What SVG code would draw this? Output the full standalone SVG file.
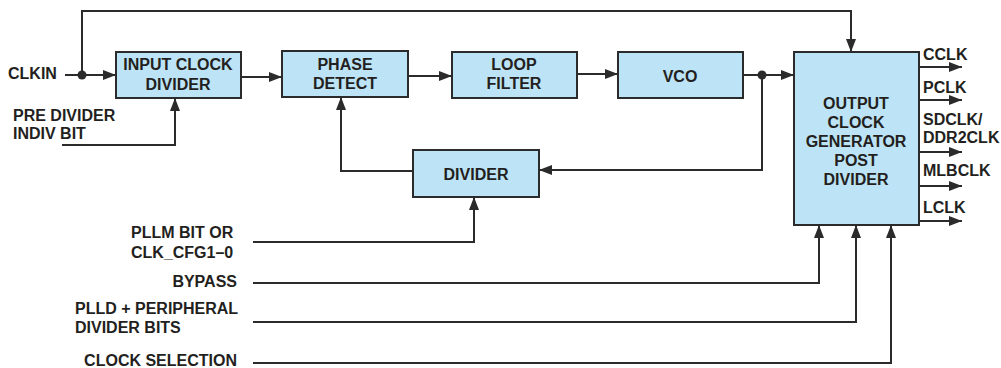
<svg xmlns="http://www.w3.org/2000/svg" width="1001" height="368" viewBox="0 0 1001 368">
<style>
.box{fill:#bde4f6;stroke:#2b2b2b;stroke-width:2}
.t{font-family:"Liberation Sans",Arial,sans-serif;font-weight:bold;font-size:16px;fill:#231f20}
.c{text-anchor:middle}
.e{text-anchor:end}
.w{fill:none;stroke:#2b2b2b;stroke-width:2}
.a{marker-end:url(#ah)}
</style>
<defs>
<marker id="ah" markerUnits="userSpaceOnUse" markerWidth="13" markerHeight="10" refX="13" refY="5" orient="auto">
<path d="M0,0 L13,5 L0,10 z" fill="#2b2b2b"/>
</marker>
</defs>
<rect width="1001" height="368" fill="#fff"/>
<g id="connectors">
<path class="w a" d="M65,75 H116"/>
<path class="w a" d="M82,75 V11 H851 V52"/>
<path class="w a" d="M62,145 H175 V98"/>
<path class="w a" d="M241,77 H282"/>
<path class="w a" d="M408,76 H452"/>
<path class="w a" d="M577,74 H618"/>
<path class="w a" d="M743,75 H794"/>
<path class="w a" d="M762,75 V170 H539"/>
<path class="w a" d="M413,171 H341 V97"/>
<path class="w a" d="M253,242 H474 V197"/>
<path class="w a" d="M253,283 H819 V225"/>
<path class="w a" d="M253,322 H856 V225"/>
<path class="w a" d="M253,363 H891 V225"/>
<path class="w a" d="M919,67 H962"/>
<path class="w a" d="M919,100 H962"/>
<path class="w a" d="M919,152 H962"/>
<path class="w a" d="M919,186 H962"/>
<path class="w a" d="M919,221 H962"/>
<circle cx="82" cy="75" r="4.5" fill="#2b2b2b"/>
<circle cx="762" cy="75" r="4.5" fill="#2b2b2b"/>
</g>
<g id="input-clock-divider">
<rect class="box" x="116" y="52" width="125" height="46"/>
<text class="t c" x="178" y="70">INPUT CLOCK</text>
<text class="t c" x="178" y="90">DIVIDER</text>
</g>
<g id="phase-detect">
<rect class="box" x="282" y="51" width="126" height="46"/>
<text class="t c" x="345" y="70">PHASE</text>
<text class="t c" x="345" y="89">DETECT</text>
</g>
<g id="loop-filter">
<rect class="box" x="452" y="52" width="125" height="46"/>
<text class="t c" x="514" y="70">LOOP</text>
<text class="t c" x="514" y="89">FILTER</text>
</g>
<g id="vco">
<rect class="box" x="618" y="52" width="125" height="46"/>
<text class="t c" x="680" y="82">VCO</text>
</g>
<g id="divider">
<rect class="box" x="413" y="150" width="126" height="47"/>
<text class="t c" x="476" y="180">DIVIDER</text>
</g>
<g id="output-clock-generator">
<rect class="box" x="794" y="52" width="125" height="173"/>
<text class="t c" x="856" y="109">OUTPUT</text>
<text class="t c" x="856" y="128">CLOCK</text>
<text class="t c" x="856" y="147">GENERATOR</text>
<text class="t c" x="856" y="166">POST</text>
<text class="t c" x="856" y="185">DIVIDER</text>
</g>
<g id="labels">
<text class="t" x="8" y="79">CLKIN</text>
<text class="t" x="13" y="121">PRE DIVIDER</text>
<text class="t" x="13" y="139">INDIV BIT</text>
<text class="t" x="131" y="238">PLLM BIT OR</text>
<text class="t" x="131" y="258">CLK_CFG1–0</text>
<text class="t e" x="237" y="287">BYPASS</text>
<text class="t" x="75" y="314">PLLD + PERIPHERAL</text>
<text class="t" x="75" y="333">DIVIDER BITS</text>
<text class="t e" x="237" y="366">CLOCK SELECTION</text>
<text class="t" x="923" y="60">CCLK</text>
<text class="t" x="923" y="93">PCLK</text>
<text class="t" x="923" y="125">SDCLK/</text>
<text class="t" x="923" y="143">DDR2CLK</text>
<text class="t" x="923" y="176">MLBCLK</text>
<text class="t" x="923" y="213">LCLK</text>
</g>
</svg>
